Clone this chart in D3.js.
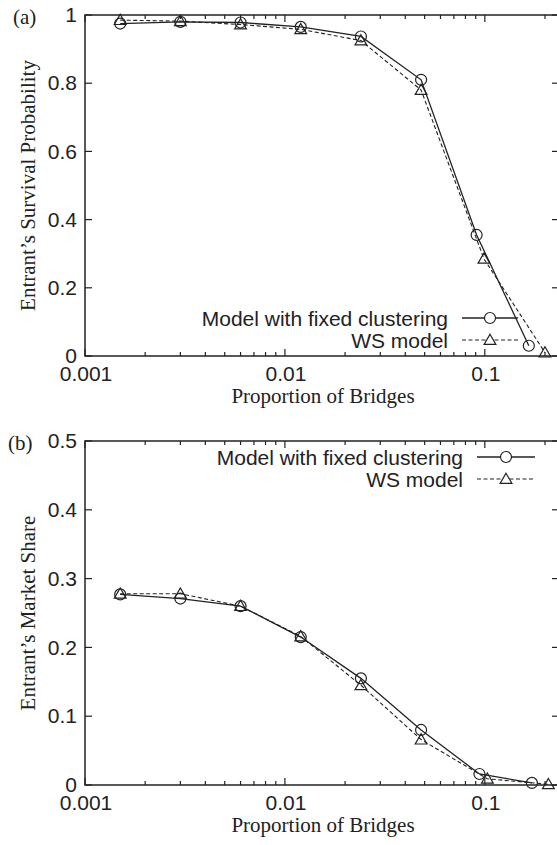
<!DOCTYPE html>
<html>
<head>
<meta charset="utf-8">
<script src="https://cdn.jsdelivr.net/npm/d3@7"></script>
<style>
    body { margin: 0; background: #fff; }
    svg { display: block; }
    .tick-label { font-family: "Liberation Sans", Arial, sans-serif; font-size: 21px; fill: #222; }
    .axis-title { font-family: "Liberation Serif", "Times New Roman", serif; font-size: 21px; fill: #222; }
    .key-label { font-family: "Liberation Sans", Arial, sans-serif; font-size: 21px; fill: #222; }
</style>
</head>
<body>
<svg id="canvas" width="557" height="845"></svg>
<script>
// bridge proportions (x) for the two models
var xFixed = [0.0015, 0.003, 0.006, 0.012, 0.024, 0.048, 0.091, 0.166];
var xWS = [0.0015, 0.003, 0.006, 0.012, 0.024, 0.048, 0.099, 0.2];
var xFixedB = [0.0015, 0.003, 0.006, 0.012, 0.024, 0.048, 0.094, 0.172];
var xWSB = [0.0015, 0.003, 0.006, 0.012, 0.024, 0.048, 0.103, 0.208];

// (a) survival probability
var survivalFixed = [0.975, 0.98, 0.978, 0.965, 0.937, 0.81, 0.355, 0.03];
var survivalWS = [0.985, 0.982, 0.972, 0.958, 0.925, 0.78, 0.285, 0.01];

// (b) market share
var shareFixed = [0.277, 0.271, 0.26, 0.215, 0.155, 0.08, 0.016, 0.003];
var shareWS = [0.278, 0.278, 0.26, 0.216, 0.145, 0.066, 0.009, 0.001];

var xTicks = [0.001, 0.01, 0.1];
var xTickLabels = ["0.001", "0.01", "0.1"];
var yTicksA = [0, 0.2, 0.4, 0.6, 0.8, 1];
var yTicksB = [0, 0.1, 0.2, 0.3, 0.4, 0.5];
var keyLabels = ["Model with fixed clustering", "WS model"];

var svg = d3.select("#canvas");
var ink = "#222";

function drawPanel(opt) {
    var left = 85, right = 559;
    var x = d3.scaleLog().domain([0.001, 0.235]).range([left, right]);
    var y = d3.scaleLinear().domain(opt.yDomain).range([opt.bottom, opt.top]);
    var g = svg.append("g");

    // minor + major ticks on x (bottom and top, inward)
    var minor = [];
    for (var d = 0.001; d < 0.235; d *= 10) {
        for (var k = 2; k <= 9; k++) {
            if (d * k < 0.235) minor.push(d * k);
        }
    }
    minor.forEach(function (v) {
        g.append("line").attr("x1", x(v)).attr("x2", x(v))
            .attr("y1", opt.bottom).attr("y2", opt.bottom - 4)
            .attr("stroke", ink).attr("stroke-width", 1.2);
        g.append("line").attr("x1", x(v)).attr("x2", x(v))
            .attr("y1", opt.top).attr("y2", opt.top + 4)
            .attr("stroke", ink).attr("stroke-width", 1.2);
    });
    xTicks.forEach(function (v, i) {
        g.append("line").attr("x1", x(v)).attr("x2", x(v))
            .attr("y1", opt.bottom).attr("y2", opt.bottom - 7)
            .attr("stroke", ink).attr("stroke-width", 1.2);
        g.append("line").attr("x1", x(v)).attr("x2", x(v))
            .attr("y1", opt.top).attr("y2", opt.top + 7)
            .attr("stroke", ink).attr("stroke-width", 1.2);
        g.append("text").attr("class", "tick-label")
            .attr("x", x(v) + 1).attr("y", opt.bottom + 25)
            .attr("text-anchor", "middle")
            .text(xTickLabels[i]);
    });

    // y ticks (left and right, inward)
    opt.yTicks.forEach(function (v) {
        g.append("line").attr("x1", left).attr("x2", left + 7)
            .attr("y1", y(v)).attr("y2", y(v))
            .attr("stroke", ink).attr("stroke-width", 1.2);
        g.append("line").attr("x1", right).attr("x2", right - 7)
            .attr("y1", y(v)).attr("y2", y(v))
            .attr("stroke", ink).attr("stroke-width", 1.2);
        g.append("text").attr("class", "tick-label")
            .attr("x", 77).attr("y", y(v)).attr("dy", "0.34em")
            .attr("text-anchor", "end")
            .text(d3.format("~g")(v));
    });

    // frame
    g.append("rect").attr("x", left).attr("y", opt.top)
        .attr("width", right - left).attr("height", opt.bottom - opt.top)
        .attr("fill", "none").attr("stroke", ink).attr("stroke-width", 1.5);

    // titles
    g.append("text").attr("class", "axis-title")
        .attr("transform", "translate(35," + ((opt.top + opt.bottom) / 2) + ") rotate(-90)")
        .attr("text-anchor", "middle")
        .text(opt.yTitle);
    g.append("text").attr("class", "axis-title")
        .attr("x", (left + right) / 2 + 1).attr("y", opt.bottom + 47)
        .attr("text-anchor", "middle")
        .text("Proportion of Bridges");
    g.append("text").attr("class", "axis-title")
        .attr("x", opt.tagX).attr("y", opt.top + 9)
        .text(opt.tag);

    var line = d3.line().x(function (p) { return x(p[0]); }).y(function (p) { return y(p[1]); });
    var fixedPts = d3.zip(opt.xF, opt.fixed);
    var wsPts = d3.zip(opt.xW, opt.ws);

    g.append("path").datum(wsPts).attr("d", line)
        .attr("fill", "none").attr("stroke", ink).attr("stroke-width", 1.1)
        .attr("stroke-dasharray", "4,2.5");
    g.append("path").datum(fixedPts).attr("d", line)
        .attr("fill", "none").attr("stroke", ink).attr("stroke-width", 1.3);

    var tri = d3.symbol().type(d3.symbolTriangle).size(60);
    g.selectAll(".tri").data(wsPts).enter().append("path")
        .attr("transform", function (p) { return "translate(" + x(p[0]) + "," + (y(p[1]) + 1) + ")"; })
        .attr("d", tri).attr("fill", "none").attr("stroke", ink).attr("stroke-width", 1.2);
    g.selectAll(".circ").data(fixedPts).enter().append("circle")
        .attr("cx", function (p) { return x(p[0]); })
        .attr("cy", function (p) { return y(p[1]); })
        .attr("r", 5.5).attr("fill", "none").attr("stroke", ink).attr("stroke-width", 1.2);

    // key
    var k = opt.key;
    keyLabels.forEach(function (lab, i) {
        var ky = k.y + i * 22;
        g.append("text").attr("class", "key-label")
            .attr("x", k.textRight).attr("y", ky).attr("dy", "0.36em")
            .attr("text-anchor", "end").text(lab);
        g.append("line").attr("x1", k.x1).attr("x2", k.x2)
            .attr("y1", ky).attr("y2", ky)
            .attr("stroke", ink).attr("stroke-width", i === 0 ? 1.3 : 1.1)
            .attr("stroke-dasharray", i === 0 ? null : "4,2.5");
        var mx = (k.x1 + k.x2) / 2;
        if (i === 0) {
            g.append("circle").attr("cx", mx).attr("cy", ky).attr("r", 5.5)
                .attr("fill", "#fff").attr("stroke", ink).attr("stroke-width", 1.2);
        } else {
            g.append("path").attr("transform", "translate(" + mx + "," + (ky + 1) + ")")
                .attr("d", tri).attr("fill", "#fff").attr("stroke", ink).attr("stroke-width", 1.2);
        }
    });
}

drawPanel({
    top: 15, bottom: 356, yDomain: [0, 1], yTicks: yTicksA,
    yTitle: "Entrant\u2019s Survival Probability", tag: "(a)", tagX: 13,
    xF: xFixed, xW: xWS, fixed: survivalFixed, ws: survivalWS,
    key: { y: 318, textRight: 448, x1: 462, x2: 518 }
});

drawPanel({
    top: 441, bottom: 785, yDomain: [0, 0.5], yTicks: yTicksB,
    yTitle: "Entrant\u2019s Market Share", tag: "(b)", tagX: 8,
    xF: xFixedB, xW: xWSB, fixed: shareFixed, ws: shareWS,
    key: { y: 457, textRight: 463, x1: 477, x2: 535 }
});
</script>
</body>
</html>
